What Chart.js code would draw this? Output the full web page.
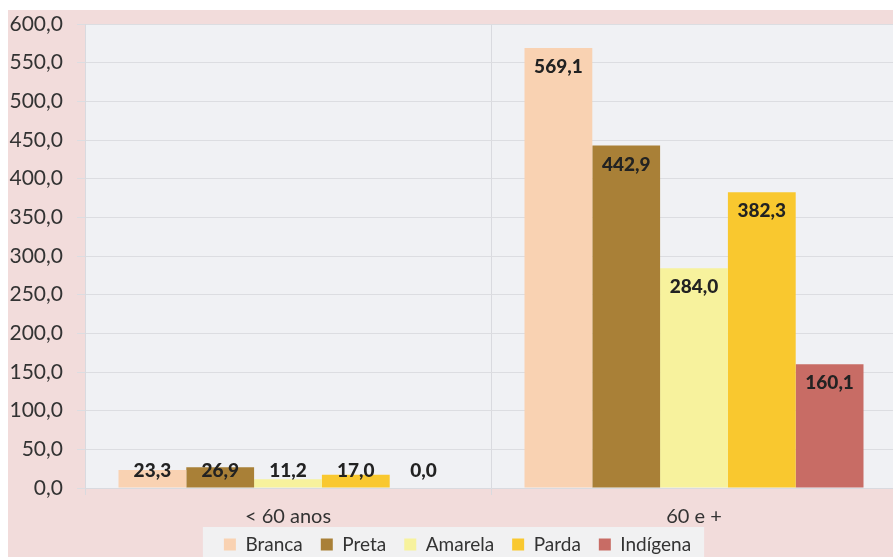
<!DOCTYPE html>
<html>
<head>
<meta charset="utf-8">
<script src="https://cdn.jsdelivr.net/npm/chart.js@4/dist/chart.umd.min.js"></script>
<style>
  html, body { margin: 0; padding: 0; background: #ffffff; overflow: hidden; width: 893px; height: 557px; }
  #wrap { position: absolute; left: 8px; top: 10px; width: 889px; height: 547px; background: #f2dcdb; }
  canvas { display: block; }
</style>
</head>
<body>
<div id="wrap"><canvas id="c" width="889" height="547"></canvas></div>
<script>
const categories = ['< 60 anos', '60 e +'];
const seriesNames = ['Branca', 'Preta', 'Amarela', 'Parda', 'Indígena'];
const branca = [23.3, 569.1];
const preta = [26.9, 442.9];
const amarela = [11.2, 284.0];
const parda = [17.0, 382.3];
const indigena = [0.0, 160.1];
const yTicks = [0, 50, 100, 150, 200, 250, 300, 350, 400, 450, 500, 550, 600];

const colors = ['#f9d2b2', '#a98037', '#f7f29d', '#f9c82f', '#c86c65'];
const seriesValues = [branca, preta, amarela, parda, indigena];

const fmt = v => v.toFixed(1).replace('.', ',');

const bgPlugin = {
  id: 'bgPlugin',
  beforeDraw(chart) {
    const { ctx, chartArea: a } = chart;
    ctx.save();
    ctx.fillStyle = '#f0f1f4';
    ctx.fillRect(a.left, a.top, a.right - a.left, a.bottom - a.top);
    const lg = chart.legend;
    if (lg && lg.legendHitBoxes && lg.legendHitBoxes.length) {
      const hb = lg.legendHitBoxes;
      const l = hb[0].left - 21;
      const r = hb[hb.length - 1].left + hb[hb.length - 1].width + 13;
      ctx.fillStyle = '#f1f1f2';
      ctx.fillRect(l, 517, r - l, 40);
    }
    ctx.restore();
  }
};

const labelPlugin = {
  id: 'labelPlugin',
  afterDatasetsDraw(chart) {
    const { ctx, chartArea: a } = chart;
    ctx.save();
    ctx.font = '900 19px Lato';
    ctx.fillStyle = '#222222';
    ctx.textAlign = 'center';
    ctx.textBaseline = 'middle';
    chart.data.datasets.forEach((ds, di) => {
      const meta = chart.getDatasetMeta(di);
      meta.data.forEach((el, i) => {
        const y = Math.min(el.y + 19, a.bottom - 17);
        ctx.fillText(fmt(ds.data[i]), el.x, y);
      });
    });
    ctx.restore();
  }
};

new Chart(document.getElementById('c'), {
  type: 'bar',
  data: {
    labels: categories,
    datasets: seriesNames.map((n, i) => ({
      label: n,
      data: seriesValues[i],
      backgroundColor: colors[i],
      borderWidth: 0,
      categoryPercentage: 0.835,
      barPercentage: 1.0
    }))
  },
  options: {
    responsive: false,
    animation: false,
    layout: { padding: { top: 14, left: 10, right: 0, bottom: 0 } },
    plugins: {
      legend: {
        position: 'bottom',
        maxHeight: 40,
        labels: {
          boxWidth: 12, boxHeight: 12, padding: 18,
          color: '#333333',
          font: { family: 'Lato', size: 19 }
        }
      },
      tooltip: { enabled: false }
    },
    scales: {
      x: {
        grid: { color: '#d9dadf', tickLength: 7, offset: true },
        border: { color: '#d9dadf' },
        ticks: { color: '#333333', font: { family: 'Lato', size: 20 }, padding: 10 },
        afterFit(s) { s.height = 29; s._computeLabelArea = () => undefined; }
      },
      y: {
        min: 0, max: 600,
        afterBuildTicks(s) { s.ticks = yTicks.map(v => ({ value: v })); },
        grid: { color: '#dcdde1', tickLength: 8 },
        border: { color: '#d9dadf' },
        ticks: { color: '#333333', font: { family: 'Lato', size: 21 }, padding: 14, callback: v => fmt(v) },
        afterFit(s) { s.width = 67; s.paddingTop = 0; s.paddingBottom = 0; s._computeLabelArea = () => undefined; }
      }
    }
  },
  plugins: [bgPlugin, labelPlugin]
});
</script>
</body>
</html>
